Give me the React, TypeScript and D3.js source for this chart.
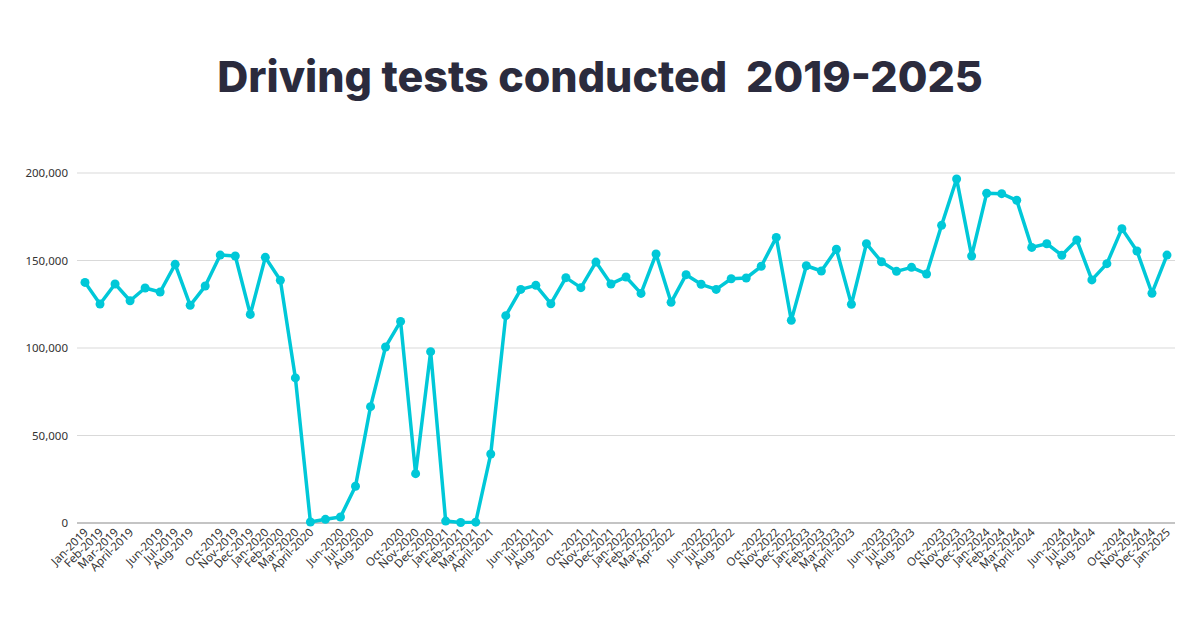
import { useEffect, useRef } from "react";
import * as d3 from "d3";

// month labels (May and Sep are left blank on the axis)
const months = [
  "Jan-2019", "Feb-2019", "Mar-2019", "April-2019", "", "Jun-2019", "Jul-2019", "Aug-2019", "", "Oct-2019", "Nov-2019", "Dec-2019",
  "Jan-2020", "Feb-2020", "Mar-2020", "April-2020", "", "Jun-2020", "Jul-2020", "Aug-2020", "", "Oct-2020", "Nov-2020", "Dec-2020",
  "Jan-2021", "Feb-2021", "Mar-2021", "April-2021", "", "Jun-2021", "Jul-2021", "Aug-2021", "", "Oct-2021", "Nov-2021", "Dec-2021",
  "Jan-2022", "Feb-2022", "Mar-2022", "Apr-2022", "", "Jun-2022", "Jul-2022", "Aug-2022", "", "Oct-2022", "Nov-2022", "Dec-2022",
  "Jan-2023", "Feb-2023", "Mar-2023", "April-2023", "", "Jun-2023", "Jul-2023", "Aug-2023", "", "Oct-2023", "Nov-2023", "Dec-2023",
  "Jan-2024", "Feb-2024", "Mar-2024", "April-2024", "", "Jun-2024", "Jul-2024", "Aug-2024", "", "Oct-2024", "Nov-2024", "Dec-2024",
  "Jan-2025",
];

const tests = [
  137500, 125100, 136600, 127000, 134300, 132000, 147800, 124400, 135400, 153100, 152600, 119200,
  151800, 138700, 82900, 600, 2100, 3400, 21000, 66500, 100600, 115200, 28200, 97900,
  1100, 300, 500, 39400, 118500, 133500, 135800, 125300, 140200, 134500, 149100, 136600,
  140600, 131200, 153700, 126100, 141900, 136400, 133500, 139600, 140000, 146700, 163200, 115800,
  147000, 144000, 156400, 125000, 159600, 149300, 143800, 146100, 142300, 170100, 196600, 152600,
  188400, 188200, 184400, 157500, 159600, 153000, 161700, 138900, 148200, 168200, 155400, 131300,
  153100,
];

const yTicks = [0, 50000, 100000, 150000, 200000];

export default function App() {
  const svgRef = useRef<SVGSVGElement>(null);

  useEffect(() => {
    const width = 1200;
    const height = 630;
    const margin = { top: 173, right: 25, bottom: 107, left: 77 };

    const svg = d3.select(svgRef.current);
    svg.selectAll("*").remove();
    svg.attr("width", width).attr("height", height);

    svg.append("rect").attr("width", width).attr("height", height).attr("fill", "#fff");

    svg.append("text")
      .attr("x", width / 2)
      .attr("y", 92)
      .attr("text-anchor", "middle")
      .attr("font-family", "Inter, 'Noto Sans', sans-serif")
      .attr("font-weight", 800)
      .attr("font-size", 43)
      .attr("fill", "#2b2b3d")
      .style("white-space", "pre")
      .text("Driving tests conducted  2019-2025");

    const idx = d3.range(tests.length);
    const x = d3.scalePoint<number>()
      .domain(idx)
      .range([margin.left + 8, width - margin.right - 8]);

    const y = d3.scaleLinear()
      .domain([0, 200000])
      .range([height - margin.bottom, margin.top]);

    // horizontal grid
    svg.append("g")
      .selectAll("line")
      .data(yTicks.filter(t => t > 0))
      .join("line")
      .attr("x1", margin.left)
      .attr("x2", width - margin.right)
      .attr("y1", d => y(d))
      .attr("y2", d => y(d))
      .attr("stroke", "#d9d9d9")
      .attr("stroke-width", 1.2);

    // baseline
    svg.append("line")
      .attr("x1", margin.left)
      .attr("x2", width - margin.right)
      .attr("y1", y(0))
      .attr("y2", y(0))
      .attr("stroke", "#8a8a8a")
      .attr("stroke-width", 1.2);

    const fmt = d3.format(",");
    svg.append("g")
      .selectAll("text")
      .data(yTicks)
      .join("text")
      .attr("x", margin.left - 9)
      .attr("y", d => y(d))
      .attr("dy", "0.35em")
      .attr("text-anchor", "end")
      .attr("font-family", "'Noto Sans', sans-serif")
      .attr("font-size", 11.5)
      .attr("fill", "#333")
      .text(d => fmt(d));

    svg.append("g")
      .selectAll("text")
      .data(idx.filter(i => months[i] !== ""))
      .join("text")
      .attr("transform", i => `translate(${x(i)! + 4},${y(0) + 10}) rotate(-45)`)
      .attr("text-anchor", "end")
      .attr("font-family", "'Noto Sans', sans-serif")
      .attr("font-size", 11.5)
      .attr("fill", "#333")
      .text(i => months[i]);

    const line = d3.line<number>()
      .x(i => x(i)!)
      .y(i => y(tests[i]));

    svg.append("path")
      .datum(idx)
      .attr("fill", "none")
      .attr("stroke", "#00c8d8")
      .attr("stroke-width", 3.5)
      .attr("stroke-linejoin", "round")
      .attr("d", line);

    svg.append("g")
      .selectAll("circle")
      .data(idx)
      .join("circle")
      .attr("cx", i => x(i)!)
      .attr("cy", i => y(tests[i]))
      .attr("r", 4.5)
      .attr("fill", "#00c8d8");
  }, []);

  return (
    <div style={{ margin: -8 }}>
      <svg ref={svgRef} style={{ display: "block" }}></svg>
    </div>
  );
}
